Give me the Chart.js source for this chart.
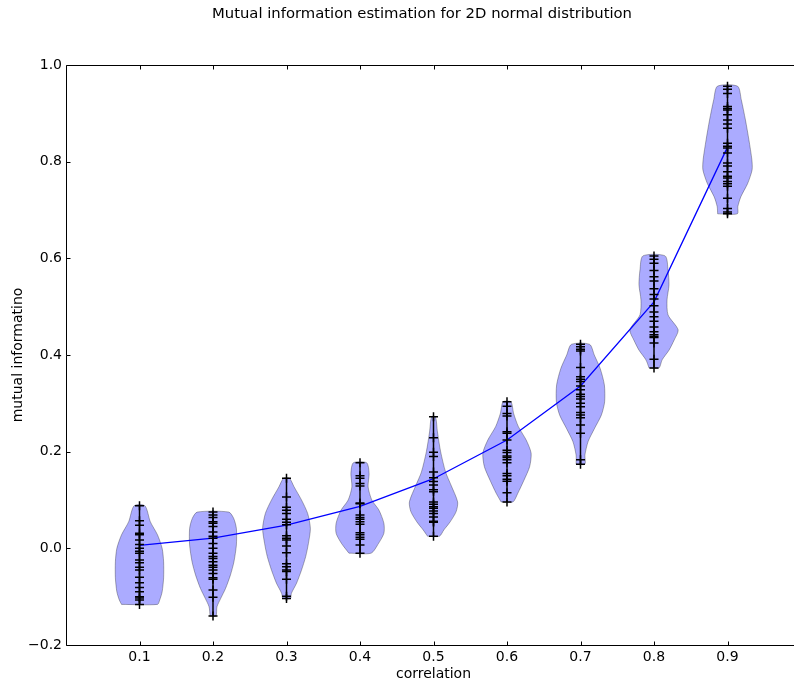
<!DOCTYPE html>
<html>
<head>
<meta charset="utf-8">
<script src="https://cdn.jsdelivr.net/npm/chart.js@4.4.1/dist/chart.umd.min.js"></script>
<style>
  html, body { margin: 0; padding: 0; overflow: hidden; background: #fff; }
  #box { width: 794px; height: 684px; overflow: hidden; }
</style>
</head>
<body>
<div id="box"><canvas id="myChart" width="844" height="684"></canvas></div>
<script>
// correlation levels on x, theory curve and tick labels
const correlations = [0.1, 0.2, 0.3, 0.4, 0.5, 0.6, 0.7, 0.8, 0.9];
const theoryMI = [0.006, 0.021, 0.048, 0.087, 0.144, 0.224, 0.336, 0.510, 0.830];
const xTicks = [0.1, 0.2, 0.3, 0.4, 0.5, 0.6, 0.7, 0.8, 0.9];
const yTicks = [-0.2, 0.0, 0.2, 0.4, 0.6, 0.8, 1.0];

// estimated MI for each run (read off the + marks)
const samplesR1 = [0.088, 0.057, 0.048, 0.031, 0.028, 0.017, 0.008, 0.000, -0.006, -0.010, -0.024, -0.030, -0.039, -0.045, -0.060, -0.071, -0.081, -0.090, -0.100, -0.103, -0.107, -0.116];
const samplesR2 = [0.075, 0.069, 0.064, 0.055, 0.052, 0.045, 0.034, 0.025, 0.021, 0.010, 0.000, -0.010, -0.017, -0.021, -0.028, -0.035, -0.039, -0.045, -0.052, -0.061, -0.064, -0.086, -0.101, -0.140];
const samplesR3 = [0.145, 0.106, 0.085, 0.079, 0.072, 0.060, 0.054, 0.049, 0.026, 0.021, 0.017, 0.005, -0.009, -0.032, -0.038, -0.045, -0.048, -0.064, -0.099, -0.104];
const samplesR4 = [0.177, 0.150, 0.145, 0.134, 0.129, 0.094, 0.092, 0.069, 0.064, 0.060, 0.055, 0.050, 0.032, 0.028, 0.023, 0.019, 0.007, -0.010];
const samplesR5 = [0.272, 0.229, 0.199, 0.190, 0.158, 0.146, 0.138, 0.131, 0.121, 0.117, 0.096, 0.091, 0.086, 0.083, 0.077, 0.072, 0.065, 0.056, 0.054, 0.025];
const samplesR6 = [0.303, 0.294, 0.279, 0.274, 0.241, 0.238, 0.224, 0.203, 0.198, 0.191, 0.188, 0.183, 0.177, 0.155, 0.150, 0.143, 0.139, 0.115, 0.096];
const samplesR7 = [0.422, 0.417, 0.412, 0.408, 0.374, 0.355, 0.350, 0.345, 0.336, 0.328, 0.319, 0.314, 0.309, 0.300, 0.293, 0.281, 0.276, 0.270, 0.255, 0.238, 0.183, 0.174];
const samplesR8 = [0.605, 0.598, 0.590, 0.575, 0.562, 0.553, 0.537, 0.525, 0.516, 0.502, 0.489, 0.479, 0.470, 0.458, 0.448, 0.442, 0.438, 0.436, 0.425, 0.391, 0.373];
const samplesR9 = [0.956, 0.950, 0.941, 0.914, 0.910, 0.907, 0.897, 0.886, 0.878, 0.869, 0.838, 0.832, 0.828, 0.818, 0.797, 0.791, 0.779, 0.770, 0.766, 0.759, 0.754, 0.749, 0.724, 0.703, 0.696, 0.692];

// violin outlines: MI level (bottom -> top) and relative density at that level
const levelsR1 = [-0.116, -0.107, -0.090, -0.061, -0.028, 0.000, 0.028, 0.055, 0.088];
const densityR1 = [0.73, 0.82, 0.92, 0.98, 0.98, 0.92, 0.73, 0.44, 0.22];
const levelsR2 = [-0.140, -0.121, -0.103, -0.083, -0.055, -0.028, 0.007, 0.041, 0.062, 0.075];
const densityR2 = [0.12, 0.16, 0.32, 0.51, 0.71, 0.85, 0.95, 0.95, 0.84, 0.64];
const levelsR3 = [-0.104, -0.093, -0.072, -0.045, -0.017, 0.010, 0.041, 0.072, 0.100, 0.127, 0.145];
const densityR3 = [0.16, 0.20, 0.41, 0.61, 0.78, 0.89, 0.97, 0.86, 0.61, 0.31, 0.12];
const levelsR4 = [-0.010, 0.010, 0.031, 0.052, 0.079, 0.100, 0.127, 0.155, 0.177];
const densityR4 = [0.45, 0.75, 0.97, 0.97, 0.77, 0.48, 0.33, 0.37, 0.27];
const levelsR5 = [0.025, 0.038, 0.055, 0.076, 0.096, 0.131, 0.158, 0.200, 0.241, 0.272];
const densityR5 = [0.24, 0.42, 0.68, 0.92, 0.98, 0.71, 0.49, 0.29, 0.16, 0.08];
const levelsR6 = [0.096, 0.114, 0.141, 0.169, 0.197, 0.224, 0.252, 0.279, 0.303];
const densityR6 = [0.24, 0.44, 0.69, 0.92, 0.98, 0.78, 0.46, 0.27, 0.16];
const levelsR7 = [0.174, 0.193, 0.221, 0.248, 0.276, 0.303, 0.338, 0.372, 0.400, 0.422];
const densityR7 = [0.18, 0.18, 0.31, 0.57, 0.85, 0.98, 0.97, 0.80, 0.56, 0.37];
const levelsR8 = [0.373, 0.390, 0.410, 0.431, 0.452, 0.483, 0.514, 0.545, 0.576, 0.605];
const densityR8 = [0.20, 0.33, 0.61, 0.82, 0.98, 0.57, 0.53, 0.61, 0.57, 0.45];
const levelsR9 = [0.692, 0.707, 0.727, 0.755, 0.783, 0.804, 0.845, 0.886, 0.928, 0.956];
const densityR9 = [0.40, 0.42, 0.54, 0.82, 1.00, 0.99, 0.87, 0.73, 0.56, 0.41];

const allSamples = [samplesR1, samplesR2, samplesR3, samplesR4, samplesR5, samplesR6, samplesR7, samplesR8, samplesR9];
const allLevels = [levelsR1, levelsR2, levelsR3, levelsR4, levelsR5, levelsR6, levelsR7, levelsR8, levelsR9];
const allDensity = [densityR1, densityR2, densityR3, densityR4, densityR5, densityR6, densityR7, densityR8, densityR9];

const halfWidth = 0.0335; // widest half of a violin, in x units

Chart.defaults.font.family = 'DejaVu Sans';
Chart.defaults.font.size = 14;
Chart.defaults.color = '#000';

const datasets = [];

// violin bodies
correlations.forEach((c, i) => {
  const lv = allLevels[i], dn = allDensity[i];
  const left = lv.map((y, k) => ({ x: c - halfWidth * dn[k], y: y }));
  const right = lv.map((y, k) => ({ x: c + halfWidth * dn[k], y: y })).reverse();
  const pts = left.concat(right);
  pts.push(pts[0]);
  datasets.push({
    data: pts,
    showLine: true,
    fill: 'shape',
    backgroundColor: 'rgba(0,0,255,0.33)',
    borderColor: 'rgba(0,0,0,0.3)',
    borderWidth: 1,
    tension: 0.25,
    pointRadius: 0,
    order: 10
  });
});

// theory curve
datasets.push({
  data: correlations.map((c, i) => ({ x: c, y: theoryMI[i] })),
  showLine: true,
  borderColor: '#0000ff',
  borderWidth: 1.3,
  pointRadius: 0,
  fill: false,
  order: 3
});

// min-max bars
correlations.forEach((c, i) => {
  const s = allSamples[i];
  datasets.push({
    data: [{ x: c, y: Math.min(...s) }, { x: c, y: Math.max(...s) }],
    showLine: true,
    borderColor: '#000',
    borderWidth: 1.5,
    pointRadius: 0,
    fill: false,
    order: 2
  });
});

// sample marks
const marks = [];
correlations.forEach((c, i) => allSamples[i].forEach(v => marks.push({ x: c, y: v })));
datasets.push({
  data: marks,
  pointStyle: 'cross',
  pointRadius: 4.5,
  pointBorderWidth: 1.5,
  pointBorderColor: '#000',
  borderColor: '#000',
  order: 1
});

// spines with inward ticks (matplotlib look)
const frame = {
  id: 'frame',
  afterDraw(chart) {
    const { ctx, chartArea: a, scales: { x, y } } = chart;
    const L = Math.round(a.left) + 0.5, T = Math.round(a.top) + 0.5, B = Math.round(a.bottom) + 0.5;
    ctx.save();
    ctx.strokeStyle = '#000';
    ctx.lineWidth = 1;
    ctx.beginPath();
    ctx.moveTo(a.right, T); ctx.lineTo(L, T); ctx.lineTo(L, B); ctx.lineTo(a.right, B);
    xTicks.forEach(v => {
      const px = Math.round(x.getPixelForValue(v)) + 0.5;
      ctx.moveTo(px, B); ctx.lineTo(px, B - 4);
      ctx.moveTo(px, T); ctx.lineTo(px, T + 4);
    });
    yTicks.forEach(v => {
      const py = Math.round(y.getPixelForValue(v)) + 0.5;
      ctx.moveTo(L, py); ctx.lineTo(L + 4, py);
    });
    ctx.stroke();
    ctx.restore();
  }
};

const chart = new Chart(document.getElementById('myChart'), {
  type: 'scatter',
  data: { datasets: datasets },
  options: {
    responsive: false,
    animation: false,
    devicePixelRatio: 1,
    layout: { padding: 0 },
    plugins: {
      legend: { display: false },
      tooltip: { enabled: false },
      title: {
        display: true,
        text: 'Mutual information estimation for 2D normal distribution',
        color: '#000',
        font: { size: 14.8, weight: 'normal' },
        padding: { top: 5.5, bottom: 41.7 }
      }
    },
    scales: {
      x: {
        type: 'linear',
        min: 0,
        max: 1.0,
        grid: { display: false, drawTicks: false },
        border: { display: false },
        afterBuildTicks: s => { s.ticks = xTicks.map(v => ({ value: v })); },
        afterFit: s => { s.height = 39; },
        ticks: { padding: 4, callback: v => v.toFixed(1) },
        title: { display: true, text: 'correlation', padding: { top: 0, bottom: 1.5 } }
      },
      y: {
        type: 'linear',
        min: -0.2,
        max: 1.0,
        grid: { display: false, drawTicks: false },
        border: { display: false },
        afterBuildTicks: s => { s.ticks = yTicks.map(v => ({ value: v })); },
        afterFit: s => { s.width = 66; },
        ticks: { padding: 4, callback: v => (v < 0 ? '\u2212' + Math.abs(v).toFixed(1) : v.toFixed(1)) },
        title: { display: true, text: 'mutual informatino', padding: { top: 10, bottom: 0 } }
      },
      // empty right box so the plot ends at x = 801 while the title stays centred on the full figure
      yRight: {
        type: 'linear',
        position: 'right',
        min: -0.2,
        max: 1.0,
        grid: { display: false, drawTicks: false },
        border: { display: false },
        ticks: { display: false },
        afterFit: s => { s.width = 43; }
      }
    }
  },
  plugins: [frame]
});
</script>
</body>
</html>
